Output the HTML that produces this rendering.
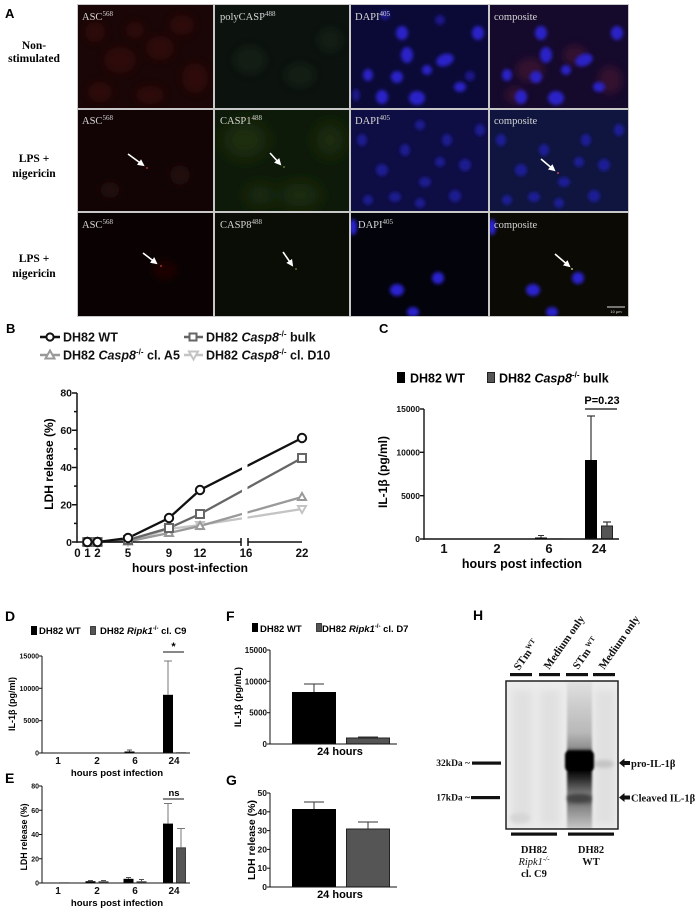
<!DOCTYPE html>
<html><head><meta charset="utf-8"><style>
html,body{margin:0;padding:0;background:#fff;}
svg{display:block;}
text{font-family:"Liberation Sans",Arial,sans-serif;}
.s{font-family:"Liberation Serif","Times New Roman",serif;}
</style></head><body>
<svg width="700" height="911" viewBox="0 0 700 911" xmlns="http://www.w3.org/2000/svg">
<defs>
<filter id="b1" x="-50%" y="-50%" width="200%" height="200%"><feGaussianBlur stdDeviation="1"/></filter>
<filter id="b2" x="-50%" y="-50%" width="200%" height="200%"><feGaussianBlur stdDeviation="1.8"/></filter>
<filter id="b4" x="-50%" y="-50%" width="200%" height="200%"><feGaussianBlur stdDeviation="4"/></filter>
<filter id="b8" x="-50%" y="-50%" width="200%" height="200%"><feGaussianBlur stdDeviation="8"/></filter>
<marker id="ah" markerWidth="7" markerHeight="7" refX="5" refY="3.5" orient="auto" markerUnits="userSpaceOnUse"><path d="M0,0 L7,3.5 L0,7 z" fill="#fff"/></marker>
<clipPath id="c11"><rect x="78" y="5" width="135" height="103"/></clipPath>
<clipPath id="c12"><rect x="215" y="5" width="134" height="103"/></clipPath>
<clipPath id="c13"><rect x="351" y="5" width="137" height="103"/></clipPath>
<clipPath id="c14"><rect x="490" y="5" width="138" height="103"/></clipPath>
<clipPath id="c21"><rect x="78" y="110" width="135" height="101"/></clipPath>
<clipPath id="c22"><rect x="215" y="110" width="134" height="101"/></clipPath>
<clipPath id="c23"><rect x="351" y="110" width="137" height="101"/></clipPath>
<clipPath id="c24"><rect x="490" y="110" width="138" height="101"/></clipPath>
<clipPath id="c31"><rect x="78" y="213" width="135" height="103"/></clipPath>
<clipPath id="c32"><rect x="215" y="213" width="134" height="103"/></clipPath>
<clipPath id="c33"><rect x="351" y="213" width="137" height="103"/></clipPath>
<clipPath id="c34"><rect x="490" y="213" width="138" height="103"/></clipPath>
<clipPath id="cblot"><rect x="506" y="681" width="112" height="148"/></clipPath>
<linearGradient id="lane3" x1="0" y1="0" x2="0" y2="1">
<stop offset="0" stop-color="#e2e2e2"/>
<stop offset="0.12" stop-color="#d2d2d2"/>
<stop offset="0.35" stop-color="#b8b8b8"/>
<stop offset="0.45" stop-color="#909090"/>
<stop offset="0.48" stop-color="#111"/>
<stop offset="0.60" stop-color="#000"/>
<stop offset="0.66" stop-color="#2a2a2a"/>
<stop offset="0.72" stop-color="#5a5a5a"/>
<stop offset="0.76" stop-color="#777"/>
<stop offset="0.80" stop-color="#4a4a4a"/>
<stop offset="0.85" stop-color="#858585"/>
<stop offset="0.93" stop-color="#a8a8a8"/>
<stop offset="1" stop-color="#c8c8c8"/>
</linearGradient>
</defs>
<rect width="700" height="911" fill="#fff"/>

<!-- ============ PANEL A ============ -->
<text x="5" y="18" font-size="13" font-weight="bold">A</text>
<rect x="77" y="4" width="552" height="313" fill="#c8c8c8"/>
<!-- row1 -->
<g clip-path="url(#c11)"><rect x="78" y="5" width="135" height="103" fill="#1a0606"/>
<g fill="#3c0c0e" filter="url(#b4)" opacity="0.6"><ellipse cx="120" cy="60" rx="16" ry="13"/><ellipse cx="160" cy="48" rx="14" ry="12"/><ellipse cx="195" cy="78" rx="13" ry="15"/><ellipse cx="100" cy="92" rx="12" ry="10"/><ellipse cx="150" cy="95" rx="14" ry="9"/><ellipse cx="182" cy="25" rx="12" ry="10"/><ellipse cx="95" cy="32" rx="10" ry="10"/><ellipse cx="135" cy="30" rx="9" ry="8"/></g></g>
<g clip-path="url(#c12)"><rect x="215" y="5" width="134" height="103" fill="#0c130f"/>
<g fill="#142018" filter="url(#b4)" opacity="0.7"><ellipse cx="250" cy="60" rx="16" ry="14"/><ellipse cx="300" cy="75" rx="15" ry="12"/><ellipse cx="330" cy="40" rx="12" ry="12"/></g></g>
<g clip-path="url(#c13)"><rect x="351" y="5" width="137" height="103" fill="#0b0a36"/>
<g fill="#2a22c8" filter="url(#b2)">
<ellipse cx="402" cy="33" rx="6" ry="7"/><ellipse cx="407" cy="55" rx="6" ry="8"/><ellipse cx="445" cy="60" rx="9" ry="6" transform="rotate(-20 445 60)"/><ellipse cx="427" cy="70" rx="5" ry="5"/><ellipse cx="368" cy="75" rx="5" ry="6"/><ellipse cx="397" cy="77" rx="6" ry="6"/><ellipse cx="382" cy="97" rx="6" ry="7"/><ellipse cx="417" cy="98" rx="8" ry="7"/><ellipse cx="460" cy="87" rx="6" ry="5"/><ellipse cx="478" cy="33" rx="6" ry="7"/></g>
<g fill="#1a168a" filter="url(#b2)"><ellipse cx="470" cy="76" rx="5" ry="5"/><ellipse cx="356" cy="95" rx="4" ry="6"/><ellipse cx="385" cy="15" rx="5" ry="5"/><ellipse cx="440" cy="20" rx="5" ry="5"/></g></g>
<g clip-path="url(#c14)"><rect x="490" y="5" width="138" height="103" fill="#150a2c"/>
<g fill="#4a1230" filter="url(#b4)" opacity="0.6"><ellipse cx="530" cy="70" rx="14" ry="12"/><ellipse cx="575" cy="55" rx="12" ry="10"/><ellipse cx="610" cy="80" rx="12" ry="14"/><ellipse cx="515" cy="95" rx="10" ry="8"/></g>
<g fill="#2a22c8" filter="url(#b2)">
<ellipse cx="541" cy="33" rx="6" ry="7"/><ellipse cx="546" cy="55" rx="6" ry="8"/><ellipse cx="584" cy="60" rx="9" ry="6" transform="rotate(-20 584 60)"/><ellipse cx="566" cy="70" rx="5" ry="5"/><ellipse cx="507" cy="75" rx="5" ry="6"/><ellipse cx="536" cy="77" rx="6" ry="6"/><ellipse cx="521" cy="97" rx="6" ry="7"/><ellipse cx="556" cy="98" rx="8" ry="7"/><ellipse cx="599" cy="87" rx="6" ry="5"/><ellipse cx="617" cy="33" rx="6" ry="7"/></g></g>
<!-- row2 -->
<g clip-path="url(#c21)"><rect x="78" y="110" width="135" height="101" fill="#120404"/>
<g fill="#200707" filter="url(#b4)"><ellipse cx="180" cy="175" rx="10" ry="10"/><ellipse cx="110" cy="190" rx="10" ry="8"/></g>
<circle cx="147" cy="168" r="1" fill="#a03030"/></g>
<g clip-path="url(#c22)"><rect x="215" y="110" width="134" height="101" fill="#0e1a09"/>
<g fill="#1b2f10" filter="url(#b8)"><ellipse cx="245" cy="140" rx="22" ry="18"/><ellipse cx="300" cy="195" rx="20" ry="12"/><ellipse cx="330" cy="140" rx="14" ry="16"/><ellipse cx="260" cy="195" rx="14" ry="10"/></g>
<circle cx="284" cy="167" r="1" fill="#607030"/></g>
<g clip-path="url(#c23)"><rect x="351" y="110" width="137" height="101" fill="#0e0d44"/>
<g fill="#1e1c92" filter="url(#b2)"><ellipse cx="362" cy="140" rx="5" ry="6"/><ellipse cx="382" cy="170" rx="6" ry="6"/><ellipse cx="405" cy="150" rx="5" ry="6"/><ellipse cx="425" cy="182" rx="6" ry="5"/><ellipse cx="447" cy="140" rx="5" ry="6"/><ellipse cx="465" cy="165" rx="6" ry="6"/><ellipse cx="395" cy="197" rx="6" ry="5"/><ellipse cx="420" cy="203" rx="5" ry="5"/><ellipse cx="455" cy="196" rx="6" ry="6"/><ellipse cx="368" cy="200" rx="5" ry="5"/><ellipse cx="480" cy="130" rx="5" ry="6"/><ellipse cx="440" cy="162" rx="5" ry="5"/><ellipse cx="420" cy="125" rx="5" ry="5"/></g></g>
<g clip-path="url(#c24)"><rect x="490" y="110" width="138" height="101" fill="#0f153e"/>
<g fill="#1e1e98" filter="url(#b2)"><ellipse cx="501" cy="140" rx="5" ry="6"/><ellipse cx="521" cy="170" rx="6" ry="6"/><ellipse cx="544" cy="150" rx="5" ry="6"/><ellipse cx="564" cy="182" rx="6" ry="5"/><ellipse cx="586" cy="140" rx="5" ry="6"/><ellipse cx="604" cy="165" rx="6" ry="6"/><ellipse cx="534" cy="197" rx="6" ry="5"/><ellipse cx="559" cy="203" rx="5" ry="5"/><ellipse cx="594" cy="196" rx="6" ry="6"/><ellipse cx="507" cy="200" rx="5" ry="5"/><ellipse cx="619" cy="130" rx="5" ry="6"/><ellipse cx="579" cy="162" rx="5" ry="5"/></g>
<circle cx="558" cy="173" r="1" fill="#c04060"/></g>
<!-- row3 -->
<g clip-path="url(#c31)"><rect x="78" y="213" width="135" height="103" fill="#0a0202"/>
<g fill="#1e0505" filter="url(#b4)"><ellipse cx="165" cy="270" rx="12" ry="10"/></g>
<circle cx="161" cy="266" r="1" fill="#a03030"/></g>
<g clip-path="url(#c32)"><rect x="215" y="213" width="134" height="103" fill="#0a0c06"/>
<circle cx="296" cy="269" r="1" fill="#607030"/></g>
<g clip-path="url(#c33)"><rect x="351" y="213" width="137" height="103" fill="#03030c"/>
<g fill="#2a22d0" filter="url(#b2)"><ellipse cx="438" cy="278" rx="6" ry="6"/><ellipse cx="397" cy="290" rx="7" ry="6"/><ellipse cx="353" cy="227" rx="4" ry="8"/><ellipse cx="413" cy="312" rx="6" ry="5"/></g></g>
<g clip-path="url(#c34)"><rect x="490" y="213" width="138" height="103" fill="#0b0a05"/>
<g fill="#2a22d0" filter="url(#b2)"><ellipse cx="578" cy="278" rx="6" ry="6"/><ellipse cx="533" cy="290" rx="7" ry="6"/><ellipse cx="492" cy="227" rx="4" ry="8"/><ellipse cx="552" cy="312" rx="6" ry="5"/></g>
<circle cx="572" cy="269" r="1" fill="#c0c060"/>
<line x1="607" y1="307" x2="625" y2="307" stroke="#ddd" stroke-width="1"/>
<text x="616" y="313" font-size="4" fill="#ddd" text-anchor="middle">10 µm</text></g>
<!-- cell labels -->
<g class="s" fill="#d6d6d6" font-size="10.5">
<text class="s" x="82" y="20">ASC<tspan font-size="7" dy="-4">568</tspan></text>
<text class="s" x="220" y="20">polyCASP<tspan font-size="7" dy="-4">488</tspan></text>
<text class="s" x="355" y="20">DAPI<tspan font-size="7" dy="-4">405</tspan></text>
<text class="s" x="494" y="20">composite</text>
<text class="s" x="82" y="124">ASC<tspan font-size="7" dy="-4">568</tspan></text>
<text class="s" x="220" y="124">CASP1<tspan font-size="7" dy="-4">488</tspan></text>
<text class="s" x="355" y="124">DAPI<tspan font-size="7" dy="-4">405</tspan></text>
<text class="s" x="494" y="124">composite</text>
<text class="s" x="82" y="228">ASC<tspan font-size="7" dy="-4">568</tspan></text>
<text class="s" x="220" y="228">CASP8<tspan font-size="7" dy="-4">488</tspan></text>
<text class="s" x="358" y="228">DAPI<tspan font-size="7" dy="-4">405</tspan></text>
<text class="s" x="494" y="228">composite</text>
</g>
<!-- arrows -->
<g stroke="#fff" stroke-width="1.6" marker-end="url(#ah)">
<line x1="128" y1="154" x2="143" y2="165"/>
<line x1="270" y1="153" x2="280" y2="164"/>
<line x1="541" y1="159" x2="554" y2="170"/>
<line x1="143" y1="253" x2="156" y2="263"/>
<line x1="283" y1="252" x2="292" y2="265"/>
<line x1="555" y1="254" x2="569" y2="266"/>
</g>
<!-- row labels -->
<g font-weight="bold" font-size="11.5" text-anchor="middle">
<text class="s" x="34" y="49">Non-</text>
<text class="s" x="34" y="62">stimulated</text>
<text class="s" x="34" y="162">LPS +</text>
<text class="s" x="34" y="177">nigericin</text>
<text class="s" x="34" y="262">LPS +</text>
<text class="s" x="34" y="277">nigericin</text>
</g>

<!-- ============ PANEL B ============ -->
<text x="6" y="333" font-size="13" font-weight="bold">B</text>
<g font-weight="bold" font-size="12.5" fill="#111">
<line x1="40" y1="337" x2="60" y2="337" stroke="#111" stroke-width="2.5"/>
<circle cx="50" cy="337" r="3.6" fill="#fff" stroke="#111" stroke-width="2"/>
<text x="63" y="341.5">DH82 WT</text>
<line x1="184" y1="337" x2="203" y2="337" stroke="#666" stroke-width="2.5"/>
<rect x="189.5" y="333.5" width="7" height="7" fill="#fff" stroke="#666" stroke-width="2"/>
<text x="206" y="341.5">DH82 <tspan font-style="italic">Casp8</tspan><tspan font-size="8" dy="-5">-/-</tspan><tspan dy="5"> bulk</tspan></text>
<line x1="40" y1="355" x2="60" y2="355" stroke="#999" stroke-width="2.5"/>
<path d="M50,350.5 L54.5,358.5 L45.5,358.5 Z" fill="#fff" stroke="#999" stroke-width="2"/>
<text x="63" y="359.5">DH82 <tspan font-style="italic">Casp8</tspan><tspan font-size="8" dy="-5">-/-</tspan><tspan dy="5"> cl. A5</tspan></text>
<line x1="184" y1="355" x2="203" y2="355" stroke="#c4c4c4" stroke-width="2.5"/>
<path d="M193.5,359.5 L198,351.5 L189,351.5 Z" fill="#fff" stroke="#c4c4c4" stroke-width="2"/>
<text x="206" y="359.5">DH82 <tspan font-style="italic">Casp8</tspan><tspan font-size="8" dy="-5">-/-</tspan><tspan dy="5"> cl. D10</tspan></text>
</g>
<!-- series -->
<g fill="none" stroke-width="2.3">
<polyline points="87.3,542 97.5,542 128,541.5 169,529 200,525 302,509" stroke="#c4c4c4"/>
<polyline points="87.3,542 97.5,542 128,541.5 169,533 200,526 302,497" stroke="#999"/>
<polyline points="87.3,542 97.5,542 128,540 169,528 200,514 302,458" stroke="#666"/>
<polyline points="87.3,542 97.5,542 128,538 169,518 200,490 302,438" stroke="#111"/>
</g>
<rect x="242" y="395" width="5.5" height="145" fill="#fff"/>
<!-- axes B -->
<g stroke="#111" stroke-width="1.5">
<line x1="77" y1="393" x2="77" y2="542.7"/>
<line x1="76.3" y1="542" x2="241" y2="542"/>
<line x1="248" y1="542" x2="302" y2="542"/>
<line x1="241" y1="538" x2="241" y2="546"/>
<line x1="248" y1="538" x2="248" y2="546"/>
<line x1="72" y1="542" x2="77" y2="542"/><line x1="72" y1="504.75" x2="77" y2="504.75"/><line x1="72" y1="467.5" x2="77" y2="467.5"/><line x1="72" y1="430.25" x2="77" y2="430.25"/><line x1="72" y1="393" x2="77" y2="393"/>
<line x1="74" y1="523.4" x2="77" y2="523.4"/><line x1="74" y1="486.1" x2="77" y2="486.1"/><line x1="74" y1="448.9" x2="77" y2="448.9"/><line x1="74" y1="411.6" x2="77" y2="411.6"/>
</g>
<!-- markers B -->
<g fill="#fff" stroke-width="2">
<g stroke="#c4c4c4"><path d="M87.3,546 l4,-7 h-8 z"/><path d="M97.5,546 l4,-7 h-8 z"/><path d="M128,545.5 l4,-7 h-8 z"/><path d="M169,533 l4,-7 h-8 z"/><path d="M200,529 l4,-7 h-8 z"/><path d="M302,513 l4,-7 h-8 z"/></g>
<g stroke="#999"><path d="M87.3,538 l4,7 h-8 z"/><path d="M97.5,538 l4,7 h-8 z"/><path d="M128,537.5 l4,7 h-8 z"/><path d="M169,529 l4,7 h-8 z"/><path d="M200,522 l4,7 h-8 z"/><path d="M302,493 l4,7 h-8 z"/></g>
<g stroke="#666"><rect x="83.3" y="538" width="8" height="8"/><rect x="93.5" y="538" width="8" height="8"/><rect x="124" y="536" width="8" height="8"/><rect x="165" y="524" width="8" height="8"/><rect x="196" y="510" width="8" height="8"/><rect x="298" y="454" width="8" height="8"/></g>
<g stroke="#111"><circle cx="87.3" cy="542" r="4.2"/><circle cx="97.5" cy="542" r="4.2"/><circle cx="128" cy="538" r="4.2"/><circle cx="169" cy="518" r="4.2"/><circle cx="200" cy="490" r="4.2"/><circle cx="302" cy="438" r="4.2"/></g>
</g>
<g font-weight="bold" font-size="10.5" text-anchor="end" fill="#111">
<text x="72" y="546">0</text><text x="72" y="508.5">20</text><text x="72" y="471">40</text><text x="72" y="434">60</text><text x="72" y="396.5">80</text>
</g>
<g font-weight="bold" font-size="11.5" text-anchor="middle" fill="#111">
<text x="77.5" y="557">0</text><text x="87.5" y="557">1</text><text x="97.5" y="557">2</text><text x="128" y="557">5</text><text x="169" y="557">9</text><text x="200" y="557">12</text><text x="246" y="557">16</text><text x="302" y="557">22</text>
</g>
<text x="190" y="572" font-weight="bold" font-size="12" text-anchor="middle">hours post-infection</text>
<text x="53" y="464" font-weight="bold" font-size="12" text-anchor="middle" transform="rotate(-90 53 464)">LDH release (%)</text>

<!-- ============ PANEL C ============ -->
<text x="379" y="333" font-size="13" font-weight="bold">C</text>
<rect x="397" y="372" width="8" height="11" fill="#000"/>
<text x="410" y="382.5" font-weight="bold" font-size="12.5">DH82 WT</text>
<rect x="487.5" y="372.5" width="7" height="10" fill="#555" stroke="#222" stroke-width="1"/>
<text x="499" y="382.5" font-weight="bold" font-size="12.5">DH82 <tspan font-style="italic">Casp8</tspan><tspan font-size="8" dy="-5">-/-</tspan><tspan dy="5"> bulk</tspan></text>
<!-- bars C -->
<rect x="585" y="460" width="12" height="79" fill="#000"/>
<line x1="591" y1="460" x2="591" y2="416" stroke="#333" stroke-width="1.2"/>
<line x1="587" y1="416" x2="595" y2="416" stroke="#333" stroke-width="1.2"/>
<rect x="601.5" y="526" width="11" height="13" fill="#555" stroke="#222" stroke-width="1"/>
<line x1="607" y1="526" x2="607" y2="522" stroke="#333" stroke-width="1.2"/>
<line x1="603" y1="522" x2="611" y2="522" stroke="#333" stroke-width="1.2"/>
<rect x="535" y="537.5" width="12" height="1.5" fill="#000"/>
<line x1="541" y1="537.5" x2="541" y2="535.5" stroke="#333"/><line x1="538" y1="535.5" x2="544" y2="535.5" stroke="#333"/>
<rect x="551" y="538.4" width="12" height="0.8" fill="#555"/>
<rect x="430" y="538.5" width="12" height="0.6" fill="#000"/><rect x="483" y="538.5" width="12" height="0.6" fill="#000"/>
<g stroke="#111" stroke-width="1.4">
<line x1="424" y1="409" x2="424" y2="539.7"/>
<line x1="423.3" y1="539" x2="619" y2="539"/>
<line x1="420" y1="409" x2="424" y2="409"/><line x1="420" y1="452.3" x2="424" y2="452.3"/><line x1="420" y1="495.7" x2="424" y2="495.7"/><line x1="420" y1="539" x2="424" y2="539"/>
<line x1="585" y1="409" x2="617" y2="409" stroke-width="1.2"/>
</g>
<g font-weight="bold" font-size="8.5" text-anchor="end" fill="#111">
<text x="420" y="412">15000</text><text x="420" y="455.5">10000</text><text x="420" y="499">5000</text><text x="420" y="542">0</text>
</g>
<text x="602" y="404" font-weight="bold" font-size="11" text-anchor="middle">P=0.23</text>
<g font-weight="bold" font-size="13" text-anchor="middle" fill="#111">
<text x="444" y="553">1</text><text x="497" y="553">2</text><text x="549" y="553">6</text><text x="599" y="553">24</text>
</g>
<text x="522" y="568" font-weight="bold" font-size="12.5" text-anchor="middle">hours post infection</text>
<text x="387" y="472" font-weight="bold" font-size="12" text-anchor="middle" transform="rotate(-90 387 472)">IL-1β (pg/ml)</text>

<!-- ============ PANEL D ============ -->
<text x="5" y="621" font-size="14" font-weight="bold">D</text>
<rect x="31" y="626" width="6" height="9" fill="#000"/>
<text x="39" y="634" font-weight="bold" font-size="9.5">DH82 WT</text>
<rect x="90.5" y="626.5" width="5" height="8" fill="#555" stroke="#222" stroke-width="0.8"/>
<text x="100" y="634" font-weight="bold" font-size="9.5">DH82 <tspan font-style="italic">Ripk1</tspan><tspan font-size="6" dy="-4">-/-</tspan><tspan dy="4"> cl. C9</tspan></text>
<rect x="163" y="694.8" width="10" height="58.2" fill="#000"/>
<line x1="168" y1="694.8" x2="168" y2="661" stroke="#777" stroke-width="1"/>
<line x1="164" y1="661" x2="172" y2="661" stroke="#777" stroke-width="1"/>
<rect x="124.5" y="751.5" width="10" height="1.5" fill="#000"/>
<line x1="129.5" y1="751.5" x2="129.5" y2="750" stroke="#555"/><line x1="127" y1="750" x2="132" y2="750" stroke="#555"/>
<rect x="176" y="752.3" width="10" height="0.7" fill="#555"/>
<g stroke="#111" stroke-width="1">
<line x1="42" y1="656" x2="42" y2="753.5"/>
<line x1="41.5" y1="753" x2="190" y2="753"/>
<line x1="39" y1="656" x2="42" y2="656"/><line x1="39" y1="688.3" x2="42" y2="688.3"/><line x1="39" y1="720.7" x2="42" y2="720.7"/><line x1="39" y1="753" x2="42" y2="753"/>
<line x1="163" y1="652" x2="184" y2="652"/>
</g>
<g font-weight="bold" font-size="7" text-anchor="end" fill="#111">
<text x="39" y="658.5">15000</text><text x="39" y="690.8">10000</text><text x="39" y="723.2">5000</text><text x="39" y="755.5">0</text>
</g>
<text x="173.5" y="650" font-weight="bold" font-size="11" text-anchor="middle">*</text>
<g font-weight="bold" font-size="10" text-anchor="middle" fill="#111">
<text x="58" y="764">1</text><text x="97" y="764">2</text><text x="135" y="764">6</text><text x="174" y="764">24</text>
</g>
<text x="117" y="776" font-weight="bold" font-size="9.6" text-anchor="middle">hours post infection</text>
<text x="15" y="704" font-weight="bold" font-size="9" text-anchor="middle" transform="rotate(-90 15 704)">IL-1β (pg/ml)</text>

<!-- ============ PANEL E ============ -->
<text x="5" y="783" font-size="14" font-weight="bold">E</text>
<g>
<rect x="46.5" y="882.6" width="10" height="0.4" fill="#000"/>
<rect x="59.5" y="882.4" width="10" height="0.6" fill="#555"/>
<rect x="85.5" y="881.2" width="10" height="1.8" fill="#000"/>
<line x1="90.5" y1="881.2" x2="90.5" y2="880.5" stroke="#555"/><line x1="88" y1="880.5" x2="93" y2="880.5" stroke="#555"/>
<rect x="98.5" y="881.2" width="10" height="1.8" fill="#555"/>
<line x1="103.5" y1="881.2" x2="103.5" y2="880.5" stroke="#555"/><line x1="101" y1="880.5" x2="106" y2="880.5" stroke="#555"/>
<rect x="123.5" y="878.8" width="10" height="4.2" fill="#000"/>
<line x1="128.5" y1="878.8" x2="128.5" y2="877.5" stroke="#555"/><line x1="126" y1="877.5" x2="131" y2="877.5" stroke="#555"/>
<rect x="136.5" y="881.2" width="10" height="1.8" fill="#555"/>
<line x1="141.5" y1="881.2" x2="141.5" y2="879.5" stroke="#555"/><line x1="139" y1="879.5" x2="144" y2="879.5" stroke="#555"/>
<rect x="163" y="823.6" width="10" height="59.4" fill="#000"/>
<line x1="168" y1="823.6" x2="168" y2="803.5" stroke="#777" stroke-width="1"/><line x1="164" y1="803.5" x2="172" y2="803.5" stroke="#777" stroke-width="1"/>
<rect x="176.5" y="847.8" width="9" height="35.2" fill="#555" stroke="#222" stroke-width="0.8"/>
<line x1="181" y1="847.8" x2="181" y2="828.5" stroke="#777" stroke-width="1"/><line x1="177" y1="828.5" x2="185" y2="828.5" stroke="#777" stroke-width="1"/>
</g>
<g stroke="#111" stroke-width="1">
<line x1="42" y1="786" x2="42" y2="883.5"/>
<line x1="41.5" y1="883" x2="190" y2="883"/>
<line x1="39" y1="786" x2="42" y2="786"/><line x1="39" y1="810.25" x2="42" y2="810.25"/><line x1="39" y1="834.5" x2="42" y2="834.5"/><line x1="39" y1="858.75" x2="42" y2="858.75"/><line x1="39" y1="883" x2="42" y2="883"/>
<line x1="163" y1="799" x2="184" y2="799"/>
</g>
<g font-weight="bold" font-size="7" text-anchor="end" fill="#111">
<text x="39" y="788.5">80</text><text x="39" y="812.75">60</text><text x="39" y="837">40</text><text x="39" y="861.25">20</text><text x="39" y="885.5">0</text>
</g>
<text x="174" y="796" font-weight="bold" font-size="9.5" text-anchor="middle">ns</text>
<g font-weight="bold" font-size="10" text-anchor="middle" fill="#111">
<text x="58" y="894">1</text><text x="97" y="894">2</text><text x="135" y="894">6</text><text x="174" y="894">24</text>
</g>
<text x="117" y="906" font-weight="bold" font-size="9.6" text-anchor="middle">hours post infection</text>
<text x="27" y="837" font-weight="bold" font-size="8.8" text-anchor="middle" transform="rotate(-90 27 837)">LDH release (%)</text>

<!-- ============ PANEL F ============ -->
<text x="226" y="621" font-size="14" font-weight="bold">F</text>
<rect x="252" y="623" width="6" height="9" fill="#000"/>
<text x="260" y="632" font-weight="bold" font-size="9.5">DH82 WT</text>
<rect x="316.5" y="623.5" width="5" height="8" fill="#555" stroke="#222" stroke-width="0.8"/>
<text x="322" y="632" font-weight="bold" font-size="9.5">DH82 <tspan font-style="italic">Ripk1</tspan><tspan font-size="6" dy="-4">-/-</tspan><tspan dy="4"> cl. D7</tspan></text>
<rect x="292" y="692" width="44" height="52" fill="#000"/>
<line x1="314" y1="692" x2="314" y2="684" stroke="#333" stroke-width="1"/><line x1="304" y1="684" x2="324" y2="684" stroke="#333" stroke-width="1"/>
<rect x="346.5" y="738" width="43" height="6" fill="#555" stroke="#222" stroke-width="1"/>
<line x1="358" y1="737" x2="378" y2="737" stroke="#333" stroke-width="1"/>
<g stroke="#111" stroke-width="1">
<line x1="270" y1="650" x2="270" y2="744.5"/>
<line x1="269.5" y1="744" x2="397" y2="744"/>
<line x1="267" y1="650" x2="270" y2="650"/><line x1="267" y1="681.3" x2="270" y2="681.3"/><line x1="267" y1="712.7" x2="270" y2="712.7"/><line x1="267" y1="744" x2="270" y2="744"/>
</g>
<g font-weight="bold" font-size="8" text-anchor="end" fill="#111">
<text x="267" y="653">15000</text><text x="267" y="684.3">10000</text><text x="267" y="715.7">5000</text><text x="267" y="747">0</text>
</g>
<text x="340" y="755" font-weight="bold" font-size="11" text-anchor="middle">24 hours</text>
<text x="241" y="697" font-weight="bold" font-size="9.5" text-anchor="middle" transform="rotate(-90 241 697)">IL-1β (pg/mL)</text>

<!-- ============ PANEL G ============ -->
<text x="226" y="785" font-size="14" font-weight="bold">G</text>
<rect x="292" y="809" width="44" height="78" fill="#000"/>
<line x1="314" y1="809" x2="314" y2="802" stroke="#333" stroke-width="1"/><line x1="304" y1="802" x2="324" y2="802" stroke="#333" stroke-width="1"/>
<rect x="346.5" y="829" width="43" height="58" fill="#555" stroke="#222" stroke-width="1"/>
<line x1="368" y1="829" x2="368" y2="822" stroke="#333" stroke-width="1"/><line x1="358" y1="822" x2="378" y2="822" stroke="#333" stroke-width="1"/>
<g stroke="#111" stroke-width="1">
<line x1="270" y1="793" x2="270" y2="887.5"/>
<line x1="269.5" y1="887" x2="397" y2="887"/>
<line x1="267" y1="793" x2="270" y2="793"/><line x1="267" y1="811.8" x2="270" y2="811.8"/><line x1="267" y1="830.6" x2="270" y2="830.6"/><line x1="267" y1="849.4" x2="270" y2="849.4"/><line x1="267" y1="868.2" x2="270" y2="868.2"/><line x1="267" y1="887" x2="270" y2="887"/>
</g>
<g font-weight="bold" font-size="8.5" text-anchor="end" fill="#111">
<text x="267" y="796">50</text><text x="267" y="814.8">40</text><text x="267" y="833.6">30</text><text x="267" y="852.4">20</text><text x="267" y="871.2">10</text><text x="267" y="890">0</text>
</g>
<text x="340" y="898" font-weight="bold" font-size="11" text-anchor="middle">24 hours</text>
<text x="255" y="840" font-weight="bold" font-size="10.5" text-anchor="middle" transform="rotate(-90 255 840)">LDH release (%)</text>

<!-- ============ PANEL H ============ -->
<text x="473" y="620" font-size="14" font-weight="bold">H</text>
<g font-weight="bold" font-size="11" fill="#111">
<text class="s" x="519" y="671" transform="rotate(-55 519 671)">STm<tspan font-size="7" dy="-4">WT</tspan></text>
<text class="s" x="549" y="670" transform="rotate(-55 549 670)">Medium only</text>
<text class="s" x="578" y="670" transform="rotate(-55 578 670)">STm<tspan font-size="7" dy="-4"> WT</tspan></text>
<text class="s" x="604" y="670" transform="rotate(-55 604 670)">Medium only</text>
</g>
<g fill="#111">
<rect x="510" y="673" width="22" height="3.2"/><rect x="539" y="673" width="21" height="3.2"/><rect x="566" y="673" width="22" height="3.2"/><rect x="593" y="673" width="22" height="3.2"/>
<rect x="511" y="832.5" width="46" height="3.2"/><rect x="568" y="832.5" width="46" height="3.2"/>
<rect x="472" y="761.5" width="29" height="3.2"/><rect x="471" y="796" width="29" height="3.2"/>
</g>
<g clip-path="url(#cblot)">
<rect x="506" y="681" width="112" height="148" fill="#ececec"/>
<g filter="url(#b4)" fill="#e0e0e0"><rect x="512" y="690" width="20" height="135"/><rect x="540" y="690" width="20" height="135"/><rect x="595" y="690" width="20" height="135"/></g>
<ellipse cx="604" cy="764" rx="10" ry="4" fill="#c4c4c4" filter="url(#b2)"/>
<ellipse cx="520" cy="818" rx="10" ry="5" fill="#d6d6d6" filter="url(#b2)"/>
<rect x="567" y="681" width="25" height="148" fill="url(#lane3)" filter="url(#b1)"/>
<rect x="565" y="751" width="29" height="20" rx="4" fill="#000" filter="url(#b1)"/>
<ellipse cx="579" cy="798" rx="12" ry="4" fill="#444" filter="url(#b2)"/>
</g>
<rect x="506" y="681" width="112" height="148" fill="none" stroke="#222" stroke-width="1.5"/>
<g font-weight="bold" font-size="9.5" fill="#111" text-anchor="end">
<text class="s" x="470" y="766">32kDa ~</text>
<text class="s" x="470" y="800.5">17kDa ~</text>
</g>
<path d="M619,763 L624.5,758.5 L624.5,761 L630,761 L630,765 L624.5,765 L624.5,767.5 Z" fill="#111"/>
<path d="M619,797.5 L624.5,793 L624.5,795.5 L630,795.5 L630,799.5 L624.5,799.5 L624.5,802 Z" fill="#111"/>
<g font-weight="bold" font-size="10.5" fill="#111">
<text class="s" x="631" y="767">pro-IL-1β</text>
<text class="s" x="631" y="801.5">Cleaved IL-1β</text>
</g>
<g font-weight="bold" font-size="10.5" fill="#111" text-anchor="middle">
<text class="s" x="534" y="853">DH82</text>
<text class="s" x="534" y="865" font-style="italic" font-weight="normal">Ripk1<tspan font-size="7" dy="-4">-/-</tspan></text>
<text class="s" x="534" y="877">cl. C9</text>
<text class="s" x="591" y="853">DH82</text>
<text class="s" x="591" y="865">WT</text>
</g>
</svg>
</body></html>
